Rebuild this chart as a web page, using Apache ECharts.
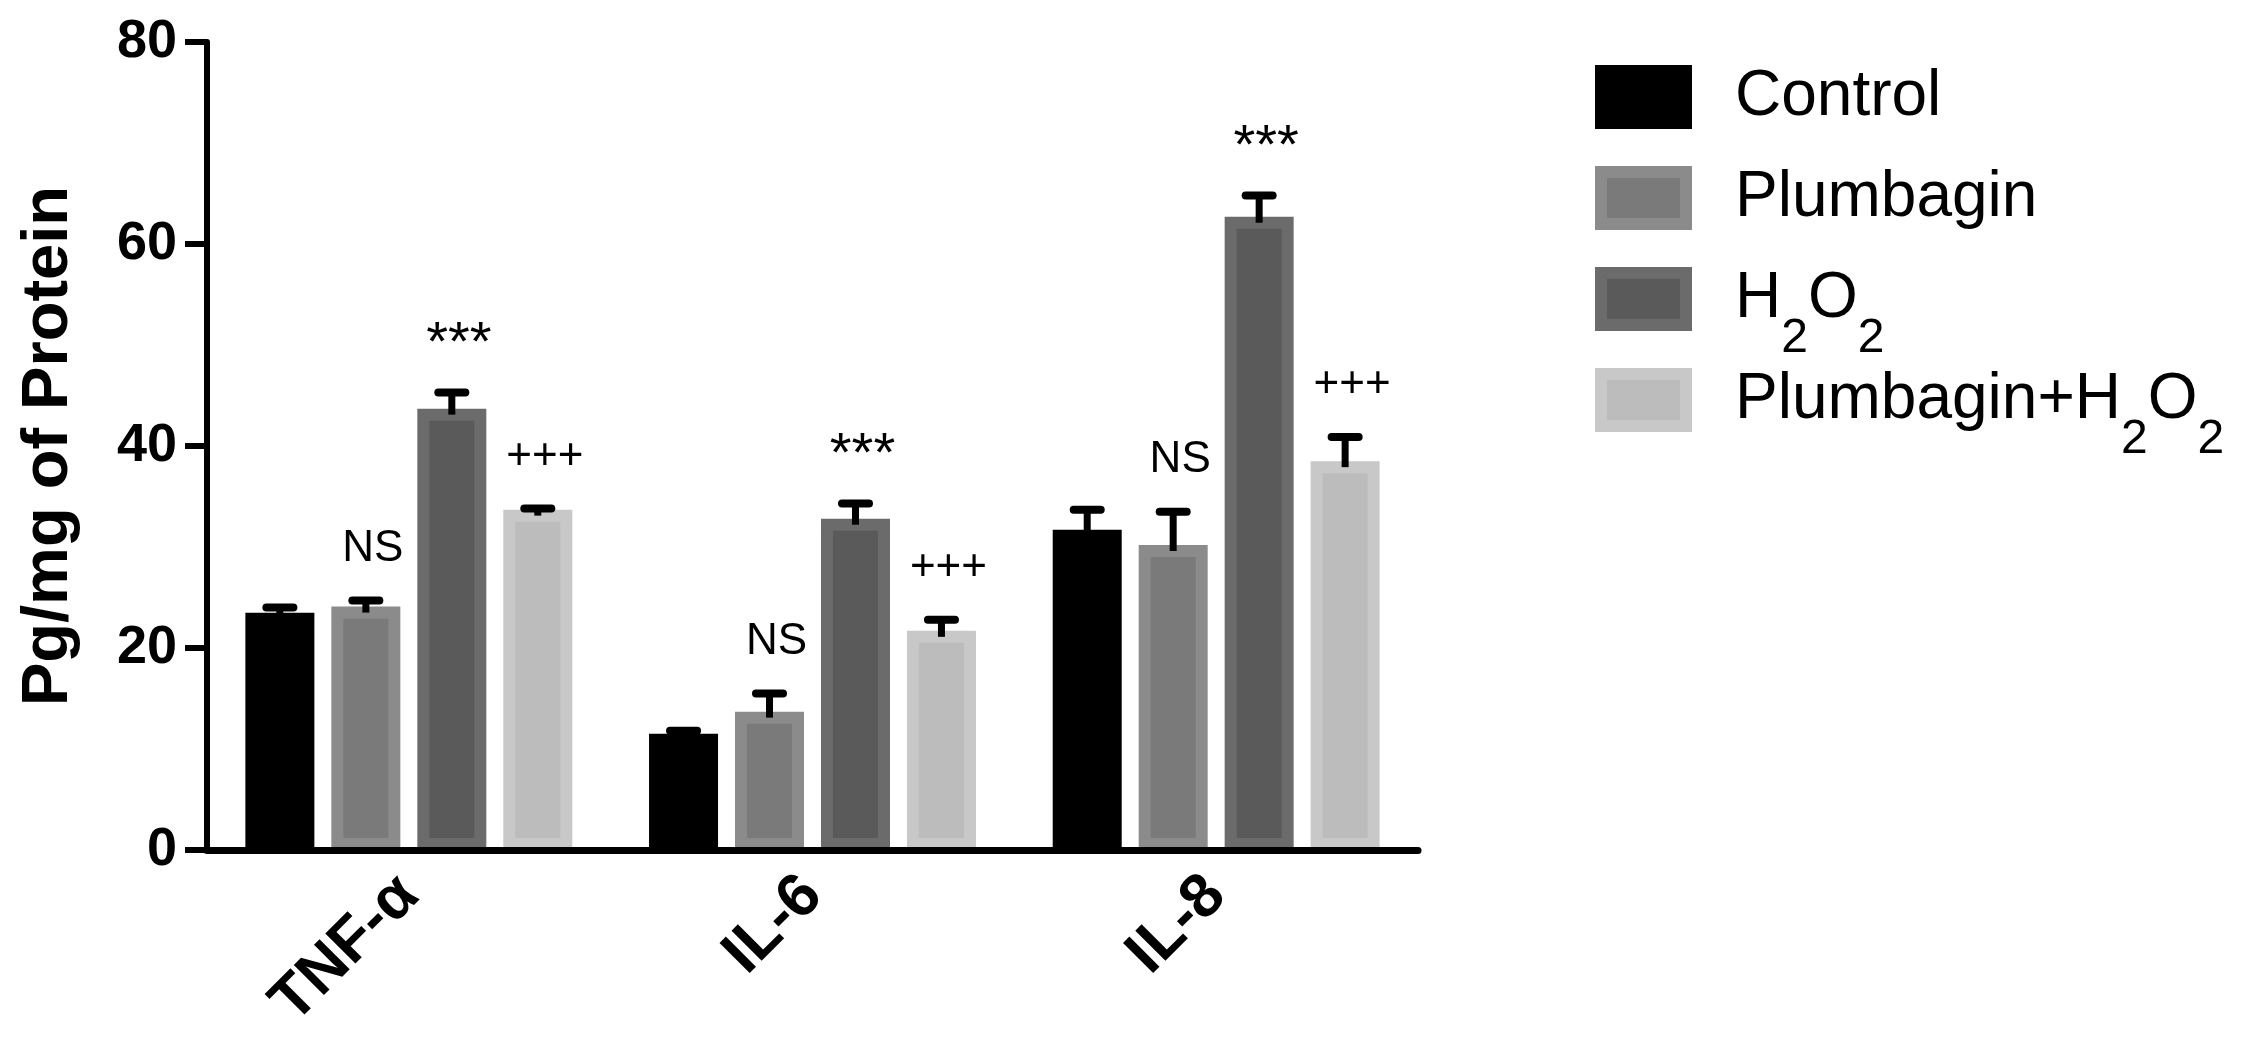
<!DOCTYPE html>
<html>
<head>
<meta charset="utf-8">
<title>Cytokine levels</title>
<script src="https://cdn.jsdelivr.net/npm/echarts@6/dist/echarts.min.js"></script>
<style>
  html, body { margin: 0; padding: 0; background: #fff; }
  #chart { width: 2260px; height: 1059px; }
</style>
</head>
<body>
<div id="chart"></div>
<script>
// values: mean and SEM, Pg/mg of protein
const categories = ['TNF-α', 'IL-6', 'IL-8'];
const groupNames = ['Control', 'Plumbagin', 'H2O2', 'Plumbagin+H2O2'];

const control = [23.5, 11.5, 31.7];
const controlErr = [0.5, 0.3, 2.0];
const plumbagin = [24.1, 13.7, 30.2];
const plumbaginErr = [0.6, 1.8, 3.3];
const h2o2 = [43.7, 32.8, 62.7];
const h2o2Err = [1.6, 1.5, 2.1];
const combo = [33.7, 21.7, 38.5];
const comboErr = [0.1, 1.1, 2.4];

const controlSig = ['', '', ''];
const plumbaginSig = ['NS', 'NS', 'NS'];
const h2o2Sig = ['***', '***', '***'];
const comboSig = ['+++', '+++', '+++'];

const yTicks = [0, 20, 40, 60, 80];

const FONT = '"Liberation Sans", Arial, Helvetica, sans-serif';
const BAR_W = 69;
const BAR_GAP = 0.246;
const BORDER = 12;

const chart = echarts.init(document.getElementById('chart'));

function barSeries(idx, values, fill, border) {
    return {
        type: 'bar',
        name: groupNames[idx],
        data: values,
        barWidth: BAR_W,
        barGap: (BAR_GAP * 100) + '%',
        z: 2,
        itemStyle: {color: fill, borderColor: border, borderWidth: BORDER},
        emphasis: {disabled: true}
    };
}

// error bar (upper half only) plus the significance mark above it
function errSeries(idx, means, errs, sigs) {
    return {
        type: 'custom',
        name: groupNames[idx] + ' err',
        z: 5,
        silent: true,
        data: means.map((m, i) => [i, m, m + errs[i]]),
        renderItem: function (params, api) {
            const base = api.coord([api.value(0), api.value(1)]);
            const top = api.coord([api.value(0), api.value(2)]);
            const x = base[0] + (idx - 1.5) * BAR_W * (1 + BAR_GAP);
            const children = [
                // stem runs a little way into the bar, down to the middle of its border
                {type: 'line', shape: {x1: x, y1: base[1] + BORDER / 2, x2: x, y2: top[1]},
                    style: {stroke: '#000', lineWidth: 7}},
                {type: 'line', shape: {x1: x - 13.5, y1: top[1], x2: x + 13.5, y2: top[1]},
                    style: {stroke: '#000', lineWidth: 8, lineCap: 'round'}}
            ];
            const sig = sigs[params.dataIndex];
            if (sig) {
                // asterisks sit high in the em box, so set them a bit lower and larger
                const star = sig.charAt(0) === '*';
                children.push({
                    type: 'text',
                    x: x + 7,
                    y: top[1] - (star ? 48 : 52),
                    style: {text: sig, fill: '#000', font: (star ? 56 : 44) + 'px ' + FONT,
                        align: 'center', verticalAlign: 'middle'}
                });
            }
            return {type: 'group', children: children};
        }
    };
}

// every legend label gets the same token layout so the rows stay evenly spaced
function legendText(name) {
    const parts = name.split('H2O2');
    if (parts.length === 1) return '{n|' + name + '}{s| }';
    return (parts[0] ? '{n|' + parts[0] + '}' : '') + '{n|H}{s|2}{n|O}{s|2}';
}

const option = {
    animation: false,
    backgroundColor: '#fff',
    grid: {left: 207, top: 42, width: 1211, bottom: 209, containLabel: false, outerBoundsMode: 'none'},
    legend: {
        orient: 'vertical',
        left: 1595,
        top: 65,
        padding: 0,
        icon: 'rect',
        itemWidth: 85,
        itemHeight: 52,
        itemGap: 5,
        selectedMode: false,
        data: groupNames,
        itemStyle: {borderWidth: BORDER},
        formatter: legendText,
        textStyle: {
            padding: [0, 0, 0, 44],
            color: '#000',
            rich: {
                n: {fontFamily: FONT, fontSize: 64, lineHeight: 64, color: '#000', verticalAlign: 'top'},
                s: {fontFamily: FONT, fontSize: 48, lineHeight: 24, color: '#000', verticalAlign: 'top',
                    padding: [48, 0, 0, 0]}
            }
        }
    },
    xAxis: {
        type: 'category',
        data: categories,
        z: 3,
        axisLine: {lineStyle: {color: '#000', width: 7}},
        axisTick: {alignWithLabel: true, length: 24, lineStyle: {color: '#000', width: 6}},
        axisLabel: {rotate: 45, margin: 36, color: '#000', fontFamily: FONT,
            fontWeight: 'bold', fontSize: 62, interval: 0},
        splitLine: {show: false}
    },
    yAxis: {
        type: 'value',
        min: yTicks[0],
        max: yTicks[yTicks.length - 1],
        interval: yTicks[1] - yTicks[0],
        name: 'Pg/mg of Protein',
        nameLocation: 'middle',
        nameGap: 125,
        nameTextStyle: {color: '#000', fontFamily: FONT, fontWeight: 'bold', fontSize: 65},
        axisLine: {show: true, lineStyle: {color: '#000', width: 6}},
        axisTick: {show: true, length: 22, lineStyle: {color: '#000', width: 6}},
        axisLabel: {margin: 30, color: '#000', fontFamily: FONT, fontWeight: 'bold', fontSize: 54},
        splitLine: {show: false}
    },
    series: [
        barSeries(0, control, '#000000', '#000000'),
        barSeries(1, plumbagin, '#7a7a7a', '#8b8b8b'),
        barSeries(2, h2o2, '#5a5a5a', '#6b6b6b'),
        barSeries(3, combo, '#bcbcbc', '#c8c8c8'),
        errSeries(0, control, controlErr, controlSig),
        errSeries(1, plumbagin, plumbaginErr, plumbaginSig),
        errSeries(2, h2o2, h2o2Err, h2o2Sig),
        errSeries(3, combo, comboErr, comboSig)
    ]
};

chart.setOption(option);
</script>
</body>
</html>
